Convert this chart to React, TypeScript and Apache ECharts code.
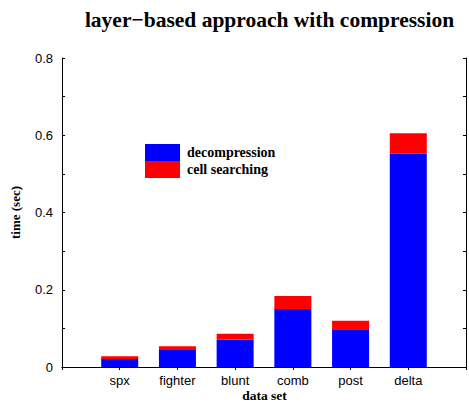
import React, { useEffect, useRef } from "react";
import * as echarts from "echarts";

const categories = ["", "spx", "fighter", "blunt", "comb", "post", "delta", ""];
const decompression = [null, 0.021, 0.044, 0.071, 0.150, 0.098, 0.552, null];
const cellSearching = [null, 0.007, 0.010, 0.015, 0.034, 0.022, 0.053, null];
const yTicks = { min: 0, max: 0.8, interval: 0.2 };

const serif = "'Liberation Serif', 'DejaVu Serif', serif";
const sans = "'Liberation Sans', Arial, sans-serif";

export default function App() {
  const ref = useRef<HTMLDivElement>(null);
  useEffect(() => {
    if (!ref.current) return;
    const chart = echarts.init(ref.current, null, { renderer: "svg" });
    const axisLine = { show: true, lineStyle: { color: "#000", width: 1 } };
    chart.setOption({
      animation: false,
      backgroundColor: "#fff",
      title: {
        text: "layer\u2212based approach with compression",
        left: 264.5,
        top: 4,
        textAlign: "center",
        textStyle: { fontFamily: serif, fontWeight: "bold", fontSize: 21.5, color: "#000" },
      },
      legend: {
        orient: "vertical",
        left: 145,
        top: 144,
        itemWidth: 35,
        itemHeight: 17,
        itemGap: 0,
        padding: 0,
        icon: "rect",
        textStyle: { fontFamily: serif, fontWeight: "bold", fontSize: 14, color: "#000", padding: [0, 0, 0, 2] },
        data: ["decompression", "cell searching"],
      },
      grid: { left: 62, top: 58, right: 2, bottom: 36 },
      xAxis: [
        {
          type: "category",
          data: categories,
          boundaryGap: false,
          position: "bottom",
          axisLine,
          axisTick: { show: true, inside: true, length: 3, lineStyle: { color: "#000" } },
          axisLabel: { fontFamily: sans, fontSize: 13, color: "#000", margin: 7 },
          splitLine: { show: false },
        },
        {
          type: "category",
          data: categories,
          boundaryGap: false,
          position: "top",
          axisLine,
          axisTick: { show: true, inside: true, length: 3, lineStyle: { color: "#000" } },
          axisLabel: { show: false },
          splitLine: { show: false },
        },
      ],
      yAxis: [
        {
          type: "value",
          ...yTicks,
          position: "left",
          axisLine,
          axisTick: { show: true, inside: true, length: 3, lineStyle: { color: "#000" } },
          minorTick: { show: true, splitNumber: 2, length: 3, lineStyle: { color: "#000" } },
          axisLabel: { fontFamily: sans, fontSize: 13, color: "#000", margin: 9 },
          splitLine: { show: false },
        },
        {
          type: "value",
          ...yTicks,
          position: "right",
          axisLine,
          axisTick: { show: true, inside: true, length: 3, lineStyle: { color: "#000" } },
          minorTick: { show: true, splitNumber: 2, length: 3, lineStyle: { color: "#000" } },
          axisLabel: { show: false },
          splitLine: { show: false },
        },
      ],
      graphic: [
        {
          type: "text",
          x: 15,
          y: 212.5,
          rotation: Math.PI / 2,
          style: {
            text: "time (sec)",
            fontFamily: serif,
            fontWeight: "bold",
            fontSize: 13,
            fill: "#000",
            align: "center",
            verticalAlign: "middle",
          },
        },
        {
          type: "text",
          x: 264.5,
          y: 395,
          style: {
            text: "data set",
            fontFamily: serif,
            fontWeight: "bold",
            fontSize: 13.5,
            fill: "#000",
            align: "center",
            verticalAlign: "middle",
          },
        },
      ],
      series: [
        {
          name: "decompression",
          type: "bar",
          stack: "t",
          barWidth: 37,
          data: decompression,
          itemStyle: { color: "#0000ff" },
        },
        {
          name: "cell searching",
          type: "bar",
          stack: "t",
          barWidth: 37,
          data: cellSearching,
          itemStyle: { color: "#ff0000" },
        },
      ],
    });
    return () => chart.dispose();
  }, []);
  return <div ref={ref} style={{ width: 469, height: 403, position: "absolute", left: 0, top: 0 }} />;
}
